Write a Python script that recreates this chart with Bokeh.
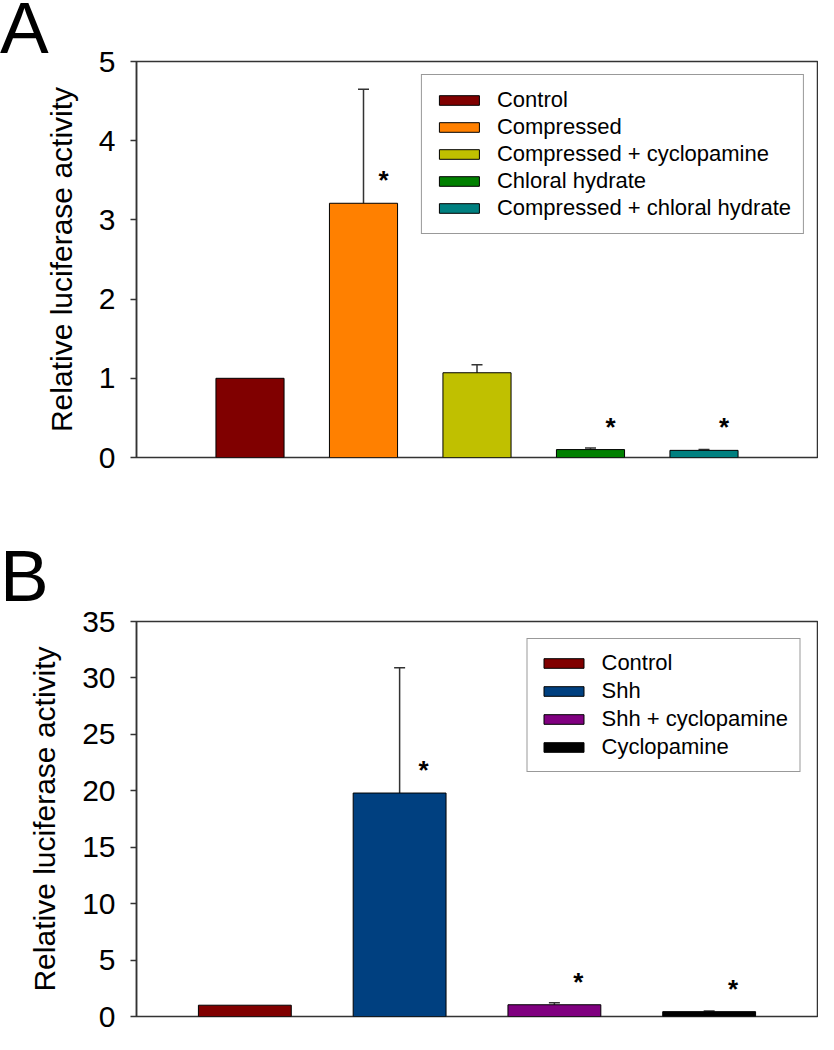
from bokeh.plotting import figure
from bokeh.layouts import column
from bokeh.models import (ColumnDataSource, Whisker, TeeHead, Legend, LegendItem,
                          FixedTicker, Range1d, Div)
from bokeh.embed import file_html
from bokeh.resources import INLINE

FONT = "Liberation Sans"

# ---------------- Panel A data ----------------
a_labels = ["Control", "Compressed", "Compressed + cyclopamine",
            "Chloral hydrate", "Compressed + chloral hydrate"]
a_values = [1.0, 3.21, 1.07, 0.10, 0.09]
a_errors = [0.0, 1.44, 0.10, 0.02, 0.01]
a_signif = [False, True, False, True, True]
a_colors = ["#800000", "#FF8000", "#C0C000", "#008000", "#008080"]
a_ticks = [0, 1, 2, 3, 4, 5]

# ---------------- Panel B data ----------------
b_labels = ["Control", "Shh", "Shh + cyclopamine", "Cyclopamine"]
b_values = [1.0, 19.8, 1.04, 0.43]
b_errors = [0.0, 11.1, 0.17, 0.06]
b_signif = [False, True, True, True]
b_colors = ["#800000", "#004080", "#800080", "#000000"]
b_ticks = [0, 5, 10, 15, 20, 25, 30, 35]

Y_LABEL = "Relative luciferase activity"
W = 818
LEFT = 136
RIGHT = 1
AXIS_COL = "#333333"


def make_panel(labels, values, errors, signif, colors, ticks,
               x_start, x_end, height, top, bottom, legend_margin,
               label_height, spacing, padding, star_dx):
    n = len(labels)
    xs = list(range(1, n + 1))
    y_max = ticks[-1]
    p = figure(width=W, height=height, output_backend="svg", toolbar_location=None,
               x_range=Range1d(x_start, x_end), y_range=Range1d(0, y_max),
               min_border_left=LEFT, min_border_right=RIGHT,
               min_border_top=top, min_border_bottom=bottom)
    p.xaxis.visible = False
    p.xgrid.visible = False
    p.ygrid.visible = False
    p.outline_line_color = AXIS_COL
    p.outline_line_width = 1.5
    p.background_fill_color = "white"
    p.border_fill_color = None

    ax = p.yaxis[0]
    ax.ticker = FixedTicker(ticks=ticks)
    ax.major_tick_out = 6
    ax.major_tick_in = 0
    ax.minor_tick_line_color = None
    ax.axis_line_color = AXIS_COL
    ax.axis_line_width = 1.5
    ax.major_tick_line_color = AXIS_COL
    ax.major_tick_line_width = 1.5
    ax.major_label_text_font = FONT
    ax.major_label_text_font_size = "30px"
    ax.major_label_text_color = "black"
    ax.major_label_standoff = 15
    ax.axis_label = Y_LABEL
    ax.axis_label_text_font = FONT
    ax.axis_label_text_font_size = "30px"
    ax.axis_label_text_font_style = "normal"
    ax.axis_label_text_color = "black"
    ax.axis_label_standoff = 18

    src = ColumnDataSource(dict(x=xs, top=values, color=colors, label=labels))
    bars = p.vbar(x="x", top="top", bottom=0, width=0.6, fill_color="color",
                  line_color="black", line_width=1, source=src)

    ex = [x for x, e in zip(xs, errors) if e > 0]
    elo = [v for v, e in zip(values, errors) if e > 0]
    ehi = [v + e for v, e in zip(values, errors) if e > 0]
    esrc = ColumnDataSource(dict(base=ex, lower=elo, upper=ehi))
    w = Whisker(base="base", lower="lower", upper="upper", source=esrc,
                dimension="height", line_color=AXIS_COL, line_width=1.5,
                upper_head=TeeHead(size=11, line_color=AXIS_COL, line_width=1.5),
                lower_head=None)
    p.add_layout(w)

    sx = [x for x, s in zip(xs, signif) if s]
    sy = [v for v, s in zip(values, signif) if s]
    ssrc = ColumnDataSource(dict(x=sx, y=sy, t=["*"] * len(sx)))
    p.text(x="x", y="y", text="t", source=ssrc, x_offset=star_dx, y_offset=-23,
           text_align="center", text_baseline="middle", text_font_size="26px",
           text_font_style="bold", text_color="black")

    items = [LegendItem(label=lab, renderers=[bars], index=i) for i, lab in enumerate(labels)]
    leg = Legend(items=items, location="top_right", margin=legend_margin,
                 padding=padding, spacing=spacing, label_height=label_height,
                 glyph_width=50, glyph_height=12, label_standoff=13,
                 label_text_font=FONT, label_text_font_size="22px",
                 label_text_color="black",
                 border_line_color=AXIS_COL, border_line_width=1.5,
                 background_fill_alpha=1.0)
    p.add_layout(leg)
    return p


def letter_div(letter, margin):
    html = ('<div style="font-family: \'Liberation Sans\', Arial, sans-serif; '
            'font-size: 73px; line-height: 56px; color: black;">%s</div>' % letter)
    return Div(text=html, width=90, height=60, margin=margin,
               styles={"z-index": "5", "position": "relative"})


pa = make_panel(a_labels, a_values, a_errors, a_signif, a_colors, a_ticks,
                0, len(a_labels) + 1, 518, 61, 61, 13, 24, 1, 12, 20)
pb = make_panel(b_labels, b_values, b_errors, b_signif, b_colors, b_ticks,
                0.3, len(b_labels) + 0.7, 516, 103, 18, 17, 26, 2, 11, 24)

da = letter_div("A", (0, 0, -60, 0))
db = letter_div("B", (30, 0, -90, 0))

layout = column(da, pa, db, pb, spacing=0)
open("out.html", "w").write(file_html(layout, INLINE))
